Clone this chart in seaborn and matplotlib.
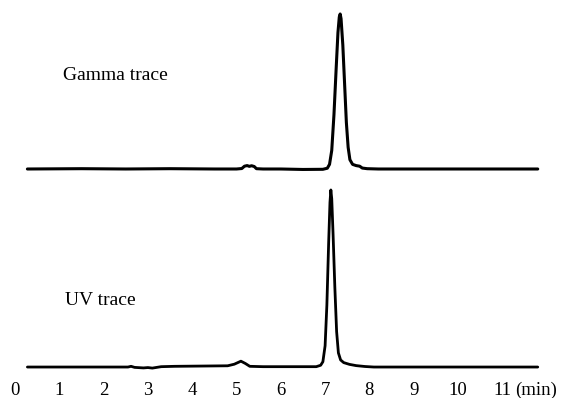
"""
Gamma / UV クロマトグラム (radio-HPLC) の再現
"""
import numpy as np
import pandas as pd
import matplotlib
matplotlib.use("Agg")
import matplotlib.pyplot as plt
import seaborn as sns

# ガンマ検出器トレース (時間 min, 信号 %)
gamma_time = [0.28, 1.5, 2.5, 3.5, 4.5, 5.0, 5.12, 5.18, 5.24, 5.29, 5.34, 5.40, 5.45, 5.6,
              6.0, 6.5, 6.95, 7.05, 7.10, 7.15, 7.20, 7.25, 7.29, 7.32, 7.34, 7.36, 7.40,
              7.44, 7.48, 7.52, 7.56, 7.62, 7.70, 7.78, 7.84, 7.95, 8.2, 9.0, 10.0, 11.8]
gamma_signal = [0.0, 0.2, 0.0, 0.2, 0.0, 0.0, 0.3, 1.8, 2.2, 1.7, 2.1, 1.6, 0.2, 0.0,
                0.0, -0.3, -0.2, 0.5, 3, 12, 35, 65, 88, 98, 100, 97, 80,
                55, 30, 14, 6, 3, 2.2, 1.8, 0.6, 0.2, 0.0, 0.0, 0.0, 0.0]

# UV 検出器トレース
uv_time = [0.28, 1.0, 2.0, 2.55, 2.62, 2.7, 2.9, 3.0, 3.1, 3.3, 3.6, 4.0, 4.4, 4.8,
           4.95, 5.1, 5.2, 5.3, 5.6, 6.0, 6.5, 6.80, 6.90, 6.95, 7.00, 7.04, 7.08,
           7.11, 7.13, 7.15, 7.18, 7.22, 7.26, 7.30, 7.35, 7.42, 7.55, 7.70, 7.90,
           8.10, 9.0, 10.0, 11.8]
uv_signal = [0.0, 0.0, 0.0, 0.0, 0.4, -0.2, -0.5, -0.3, -0.6, 0.2, 0.4, 0.5, 0.6, 0.7,
             1.6, 3.3, 2.0, 0.4, 0.2, 0.2, 0.2, 0.2, 1.0, 3, 12, 35, 70,
             93, 100, 95, 75, 45, 20, 8, 4, 2.5, 1.5, 0.8, 0.3,
             0.0, 0.0, 0.0, 0.0]

tick_values = list(range(12))
tick_labels = [str(t) for t in tick_values]

sns.set_style("white")
plt.rcParams['font.family'] = ['Liberation Serif', 'DejaVu Serif']
plt.rcParams['text.color'] = 'black'
plt.rcParams['xtick.color'] = 'black'

fig = plt.figure(figsize=(5.61, 3.98), dpi=100)
W, H = 561, 398
x_lim = (-15 / 44.3, (W - 15) / 44.3)

# 上段: Gamma (px 5..180), 下段: UV (px 185..375)
ax_g = fig.add_axes([0, 1 - 180 / H, 1, 175 / H])
ax_u = fig.add_axes([0, 1 - 375 / H, 1, 190 / H])

gamma_df = pd.DataFrame({'time': gamma_time, 'signal': gamma_signal})
uv_df = pd.DataFrame({'time': uv_time, 'signal': uv_signal})

sns.lineplot(data=gamma_df, x='time', y='signal', ax=ax_g, color='black', lw=2.2, sort=False)
sns.lineplot(data=uv_df, x='time', y='signal', ax=ax_u, color='black', lw=2.0, sort=False)

ax_g.set_ylim(-7.1, 105.8)
ax_u.set_ylim(-4.5, 102.8)

for ax in (ax_g, ax_u):
    ax.set_xlim(*x_lim)
    ax.set_xlabel('')
    ax.set_ylabel('')
    ax.set_yticks([])
    for s in ax.spines.values():
        s.set_visible(False)
    ax.patch.set_alpha(0)

ax_g.set_xticks([])
ax_u.set_xticks(tick_values)
ax_u.set_xticklabels(tick_labels, fontsize=13.5)
ax_u.tick_params(axis='x', length=0, pad=5)
# 単位ラベルは目盛ラベルと同じ高さに置く
ax_u.annotate('(min)', xy=(11.3, 0), xycoords=('data', 'axes fraction'),
              xytext=(0, -5), textcoords='offset points',
              fontsize=13.5, ha='left', va='top')

ax_g.text(1.08, 57.4, 'Gamma trace', fontsize=14, ha='left', va='baseline')
ax_u.text(1.13, 35, 'UV trace', fontsize=14, ha='left', va='baseline')

fig.savefig('out.png', dpi=100, facecolor='white')
plt.close()
